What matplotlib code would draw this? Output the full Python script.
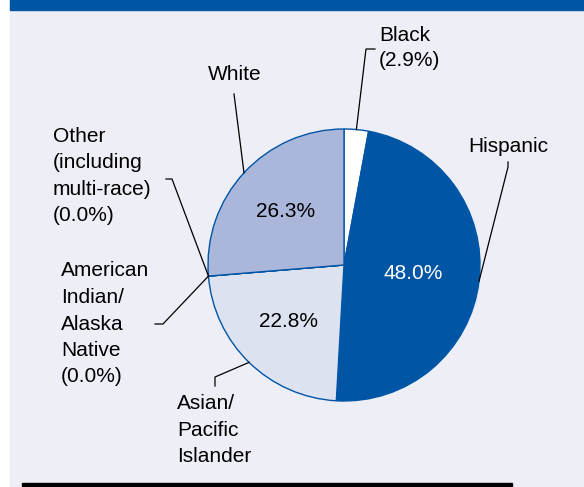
"""Pie chart of enrollment by race/ethnicity."""

import numpy as np
import matplotlib

matplotlib.use("Agg")
import matplotlib.pyplot as plt
from matplotlib.patches import Rectangle

plt.rcParams["font.family"] = ["Liberation Sans", "DejaVu Sans"]

# data, clockwise from 12 o'clock
groups = ["Black", "Hispanic", "Asian/Pacific Islander",
          "American Indian/Alaska Native", "Other (including multi-race)", "White"]
shares = [2.9, 48.0, 22.8, 0.0, 0.0, 26.3]
outer_labels = [
    "Black\n(2.9%)",
    "Hispanic",
    "Asian/\nPacific\nIslander",
    "American\nIndian/\nAlaska\nNative\n(0.0%)",
    "Other\n(including\nmulti-race)\n(0.0%)",
    "White",
]
inner_labels = ["", "48.0%", "22.8%", "", "", "26.3%"]

BLUE = "#0055A5"
BG = "#EEEEF7"
colors = ["#FFFFFF", BLUE, "#DDE2F1", "#DDE2F1", "#AAB7DB", "#AAB7DB"]

W, H = 584, 487
fig = plt.figure(figsize=(W / 100, H / 100), dpi=100)
fig.patch.set_facecolor("white")
ax = fig.add_axes([0, 0, 1, 1])

# panel background, header band and bottom rule (pixel coordinates)
ax.add_patch(Rectangle((10, 0), W - 10, H, color=BG, zorder=0))
ax.add_patch(Rectangle((10, H - 10), W - 10, 10, color=BLUE, zorder=1))
ax.add_patch(Rectangle((22, H - 486), 490, 3.5, color="black", zorder=1))

cx, cy, r = 344, H - 265, 136
wedges, _ = ax.pie(
    shares, colors=colors, startangle=90, counterclock=False,
    center=(cx, cy), radius=r, frame=True,
    wedgeprops=dict(edgecolor=BLUE, linewidth=1.0),
)
ax.set_xlim(0, W)
ax.set_ylim(0, H)
ax.axis("off")


def mid_angle(w):
    return np.deg2rad((w.theta1 + w.theta2) / 2)


def on_rim(a, k=1.0):
    return cx + k * r * np.cos(a), cy + k * r * np.sin(a)


# inner percentage labels
pct_dist = {1: 0.51, 2: 0.58, 5: 0.58}
for i, txt in enumerate(inner_labels):
    if not txt:
        continue
    x, y = on_rim(mid_angle(wedges[i]), pct_dist[i])
    ax.text(x, y, txt, ha="center", va="center", fontsize=15,
            color="white" if i == 1 else "black")

# leader lines: rim point -> elbow -> end, then text placement
# (elbow, end, text position, text alignment, line spacing) in pixels
callouts = {
    0: ((366, 49), (375, 49), (379, 48), "left", 1.45),
    1: ((508, 167), (508, 162), (508, 146), "center", 1.5),
    2: ((215, 377), (215, 386), (177, 430), "left", 1.5),
    3: ((163, 324), (155, 324), (61, 324), "left", 1.5),
    4: ((172, 179), (166, 179), (53, 176), "left", 1.5),
    5: ((234, 94), (234, 94), (235, 75), "center", 1.5),
}
for i, (elbow, end, tpos, ha, ls) in callouts.items():
    if shares[i] == 0:
        x0, y0 = on_rim(np.deg2rad(wedges[i].theta1))
    else:
        x0, y0 = on_rim(mid_angle(wedges[i]))
    xs = [x0, elbow[0], end[0]]
    ys = [y0, H - elbow[1], H - end[1]]
    ax.plot(xs, ys, color="black", linewidth=0.9, zorder=5)
    ax.text(tpos[0], H - tpos[1], outer_labels[i], ha=ha, va="center",
            fontsize=15, linespacing=ls, color="black")

fig.savefig("out.png", dpi=100, facecolor=fig.get_facecolor())
